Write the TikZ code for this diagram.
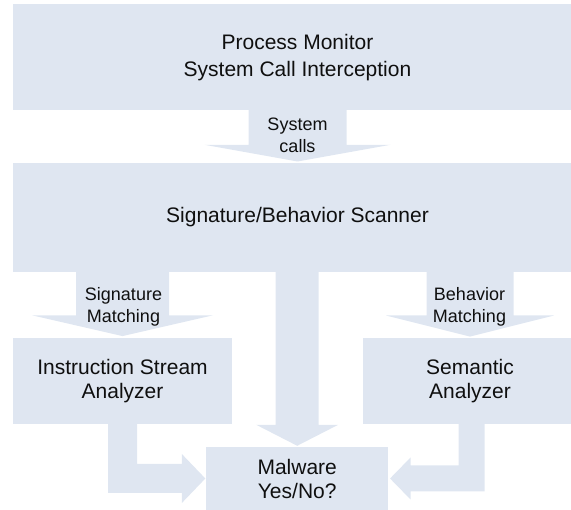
\documentclass[tikz,border=0pt]{standalone}
\usepackage{fontspec}
\setmainfont{Liberation Sans}
\usetikzlibrary{calc}
\definecolor{boxfill}{HTML}{DFE6F1}
\definecolor{txt}{HTML}{0F0F0F}
\tikzset{
  box/.style={rectangle, fill=boxfill, inner sep=0pt, align=center, text=txt, font=\fontsize{21}{24}\selectfont},
  flow/.style={fill=boxfill},
  lbl/.style={inner sep=0pt, align=center, text=txt, font=\fontsize{18}{22}\selectfont},
}
% block arrow: from, to, shaft half width, head half width, head length (from target top), tip gap
\newcommand\blockdown[6]{%
  \fill[flow] ($(#1.south -| #2.north)+(-#3,0)$) -- ($(#1.south -| #2.north)+(#3,0)$)
    -- ($(#2.north)+(#3,-#5)$) -- ($(#2.north)+(#4,-#5)$) -- ($(#2.north)+(0,-#6)$)
    -- ($(#2.north)+(-#4,-#5)$) -- ($(#2.north)+(-#3,-#5)$) -- cycle;}
\begin{document}
\begin{tikzpicture}[x=1pt,y=-1pt]
\useasboundingbox (0,0) rectangle (571,510);
\clip (0,0) rectangle (571,510);
% boxes
\node[box, font=\fontsize{21}{27}\selectfont, minimum width=569pt, minimum height=105.5pt] (pm) at (297.5,57.25) {Process Monitor\\System Call Interception};
\node[box, minimum width=569pt, minimum height=109pt] (sc) at (297.5,217.2) {Signature/Behavior Scanner};
\node[box, minimum width=218.4pt, minimum height=85.7pt] (isa) at (122.5,381.15) {Instruction Stream\\Analyzer};
\node[box, minimum width=215pt, minimum height=85.7pt] (sem) at (470,381.15) {Semantic\\Analyzer};
\node[box, minimum width=182.3pt, minimum height=63pt] (mal) at (297.2,478.5) {Malware\\Yes/No?};
% straight block arrows
\blockdown{pm}{sc}{49}{93}{17.7}{1}
\blockdown{sc}{isa}{46.5}{90.5}{22.8}{2}
\blockdown{sc}{sem}{43.5}{84}{22.6}{1.5}
\blockdown{sc}{mal}{21.5}{41}{22}{1}
% bent arrow: instruction stream analyzer -> malware
\coordinate (kl) at (isa.south |- mal.west);
\fill[flow] ($(isa.south)+(-14.5,0)$) -- ($(isa.south)+(14.5,0)$) -- ($(kl)+(14.5,-14.5)$)
  -- ($(mal.west)+(-24,-14.5)$) -- ($(mal.west)+(-24,-24.5)$) -- ($(mal.west)+(-0.5,0)$)
  -- ($(mal.west)+(-24,24.5)$) -- ($(mal.west)+(-24,14.5)$) -- ($(kl)+(-14.5,14.5)$) -- cycle;
% bent arrow: semantic analyzer -> malware
\coordinate (kr) at (sem.south |- mal.east);
\fill[flow] ($(sem.south)+(14.5,0)$) -- ($(sem.south)+(-11.5,0)$) -- ($(kr)+(-11.5,-13)$)
  -- ($(mal.east)+(22,-13)$) -- ($(mal.east)+(22,-21)$) -- ($(mal.east)+(1.5,0)$)
  -- ($(mal.east)+(22,21)$) -- ($(mal.east)+(22,13)$) -- ($(kr)+(14.5,13)$) -- cycle;
% arrow labels
\node[lbl] (lsys) at (297.5,135) {System\\calls};
\node[lbl] (lsig) at (123.5,306.5) {Signature\\Matching};
\node[lbl] (lbeh) at (469.5,306.5) {Behavior\\Matching};
\end{tikzpicture}
\end{document}
